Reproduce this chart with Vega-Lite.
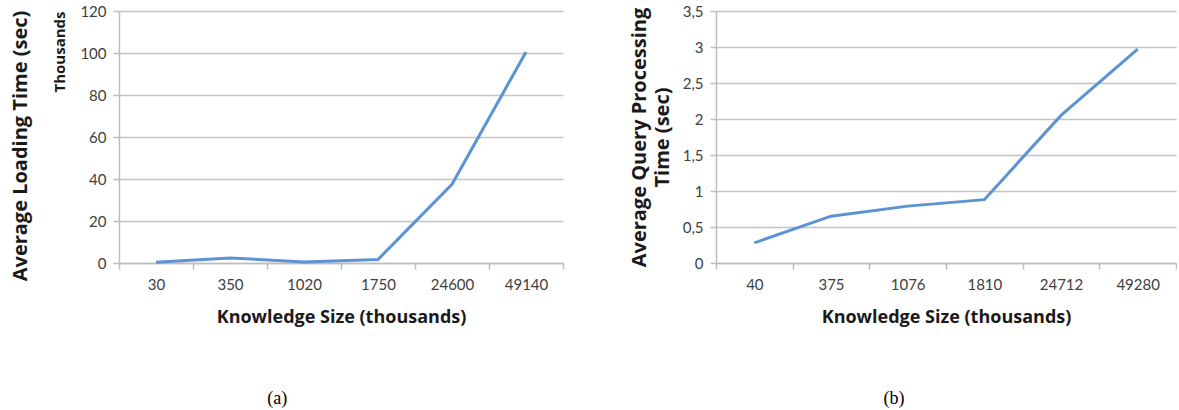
{
  "$schema": "https://vega.github.io/schema/vega-lite/v6.json",
  "padding": {"left": 10, "top": 4, "right": 0, "bottom": 0},
  "spacing": 65,
  "background": "white",
  "config": {
    "font": "Lato",
    "view": {"stroke": null},
    "axis": {
      "labelFont": "Lato", "labelFontSize": 15, "labelColor": "#404040",
      "domainColor": "#bdbdbd", "domainWidth": 1.5,
      "tickColor": "#bdbdbd", "tickWidth": 1.5, "tickSize": 6,
      "gridColor": "#c4c4c4", "gridWidth": 1.5,
      "titleFont": "Open Sans", "titleFontWeight": "bold", "titleColor": "#1a1a1a"
    }
  },
  "datasets": {
    "a": [
      {"size": "30", "time": 0.3},
      {"size": "350", "time": 2.4},
      {"size": "1020", "time": 0.5},
      {"size": "1750", "time": 1.7},
      {"size": "24600", "time": 37.5},
      {"size": "49140", "time": 100.5}
    ],
    "b": [
      {"size": "40", "time": 0.28},
      {"size": "375", "time": 0.65},
      {"size": "1076", "time": 0.79},
      {"size": "1810", "time": 0.88},
      {"size": "24712", "time": 2.05},
      {"size": "49280", "time": 2.97}
    ]
  },
  "hconcat": [
    {
      "vconcat": [
        {
          "data": {"name": "a"},
          "width": 444,
          "height": 252,
          "title": {"text": "Average Loading Time (sec)", "orient": "left", "anchor": "middle", "frame": "group", "fontSize": 20, "fontWeight": "bold", "font": "Open Sans", "color": "#1a1a1a", "offset": 22, "dx": -9},
          "mark": {"type": "line", "color": "#5b93d3", "strokeWidth": 3},
          "encoding": {
            "x": {"field": "size", "type": "ordinal", "sort": null,
              "scale": {"type": "band", "paddingInner": 0, "paddingOuter": 0},
              "axis": {"labelAngle": 0, "tickBand": "extent", "grid": false, "title": "Knowledge Size (thousands)", "titleFontSize": 18, "labelPadding": 8, "titlePadding": 16}},
            "y": {"field": "time", "type": "quantitative", "scale": {"domain": [0, 120]},
              "axis": {"values": [0, 20, 40, 60, 80, 100, 120], "title": "Thousands", "titleFontSize": 15, "titleAnchor": "end", "labelPadding": 7, "titlePadding": 12}}
          }
        }
      ],
      "title": {"text": "(a)", "orient": "bottom", "anchor": "middle", "font": "Liberation Serif", "fontSize": 18, "fontWeight": "normal", "color": "#000000", "offset": 64, "dx": -10}
    },
    {
      "vconcat": [
        {
          "data": {"name": "b"},
          "width": 460,
          "height": 252,
          "mark": {"type": "line", "color": "#5b93d3", "strokeWidth": 3},
          "encoding": {
            "x": {"field": "size", "type": "ordinal", "sort": null,
              "scale": {"type": "band", "paddingInner": 0, "paddingOuter": 0},
              "axis": {"labelAngle": 0, "tickBand": "extent", "grid": false, "title": "Knowledge Size (thousands)", "titleFontSize": 18, "labelPadding": 8, "titlePadding": 16}},
            "y": {"field": "time", "type": "quantitative", "scale": {"domain": [0, 3.5]},
              "axis": {"values": [0, 0.5, 1, 1.5, 2, 2.5, 3, 3.5], "labelExpr": "replace(format(datum.value, '~g'), '.', ',')", "title": ["Average Query Processing", "Time (sec)"], "titleFontSize": 20, "titleLineHeight": 23, "labelPadding": 7, "titlePadding": 10}}
          }
        }
      ],
      "title": {"text": "(b)", "orient": "bottom", "anchor": "middle", "font": "Liberation Serif", "fontSize": 18, "fontWeight": "normal", "color": "#000000", "offset": 64, "dx": -9}
    }
  ]
}
